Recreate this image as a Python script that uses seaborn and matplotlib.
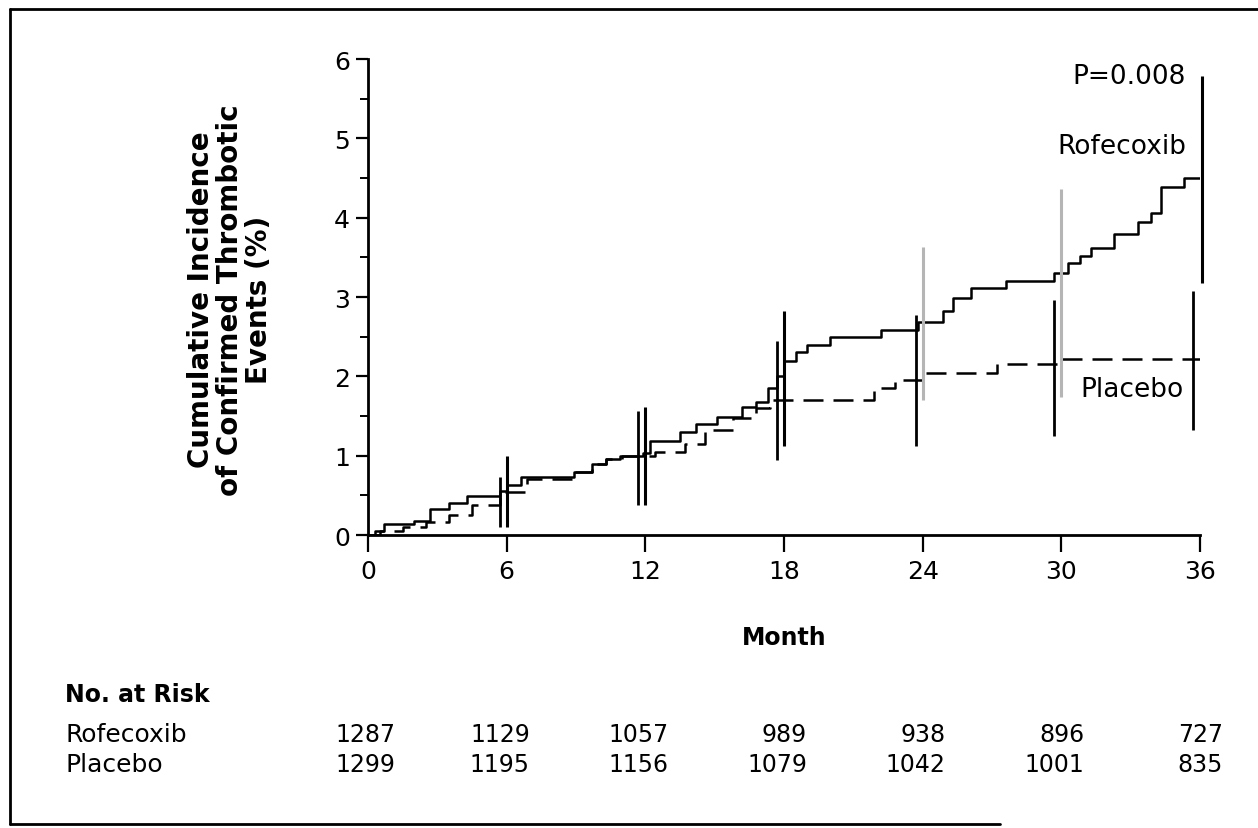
import pandas as pd
import matplotlib
matplotlib.use("Agg")
import matplotlib.pyplot as plt
import matplotlib.transforms as mtransforms
from matplotlib.lines import Line2D
from matplotlib.ticker import MultipleLocator
import seaborn as sns

# Kaplan-Meier style step curves (month, cumulative incidence %)
rofecoxib_month = [0, 0.3, 0.7, 2.0, 2.7, 3.5, 4.3, 5.7, 6.0, 6.6,
                   8.9, 9.7, 10.3, 10.9, 11.9, 12.2, 13.5, 14.2, 15.1, 16.2,
                   16.8, 17.3, 17.7, 18.0, 18.5, 19.0, 20.0, 22.2, 23.8, 24.9,
                   25.3, 26.1, 27.6, 29.7, 30.3, 30.8, 31.3, 32.3, 33.3, 33.9,
                   34.3, 35.3, 36.0]
rofecoxib_pct = [0, 0.05, 0.14, 0.18, 0.33, 0.40, 0.49, 0.55, 0.63, 0.73,
                 0.80, 0.90, 0.96, 0.99, 1.03, 1.19, 1.30, 1.40, 1.49, 1.62,
                 1.68, 1.85, 2.00, 2.19, 2.31, 2.39, 2.49, 2.58, 2.68, 2.82,
                 2.99, 3.11, 3.20, 3.30, 3.43, 3.52, 3.62, 3.80, 3.94, 4.06,
                 4.39, 4.50, 4.50]

placebo_month = [0, 0.5, 1.5, 2.5, 3.5, 4.5, 5.7, 6.9, 8.9, 9.7,
                 10.3, 11.0, 12.4, 13.7, 14.6, 15.8, 16.8, 17.4, 21.9, 22.8,
                 24.0, 27.2, 29.8, 36.0]
placebo_pct = [0, 0.05, 0.10, 0.17, 0.25, 0.38, 0.54, 0.70, 0.80, 0.90,
               0.96, 1.00, 1.05, 1.15, 1.32, 1.47, 1.60, 1.70, 1.85, 1.95,
               2.04, 2.15, 2.22, 2.22]

# 95% confidence intervals at 6-month marks
ci_month = [6, 12, 18, 24, 30, 36]
rofecoxib_ci_low = [0.10, 0.38, 1.12, 1.70, 1.74, 3.18]
rofecoxib_ci_high = [1.00, 1.62, 2.82, 3.63, 4.36, 5.78]
placebo_ci_low = [0.10, 0.38, 0.94, 1.12, 1.25, 1.32]
placebo_ci_high = [0.73, 1.56, 2.44, 2.77, 2.96, 3.07]

# numbers at risk
risk_month = [0, 6, 12, 18, 24, 30, 36]
rofecoxib_at_risk = [1287, 1129, 1057, 989, 938, 896, 727]
placebo_at_risk = [1299, 1195, 1156, 1079, 1042, 1001, 835]

sns.set_style("ticks")
plt.rcParams['font.family'] = ['DejaVu Sans']
plt.rcParams['text.color'] = 'black'
plt.rcParams['xtick.color'] = 'black'
plt.rcParams['ytick.color'] = 'black'
plt.rcParams['axes.edgecolor'] = 'black'
narrow = ['Liberation Sans Narrow', 'DejaVu Sans']

rof = pd.DataFrame({'Month': rofecoxib_month, 'Incidence': rofecoxib_pct})
pla = pd.DataFrame({'Month': placebo_month, 'Incidence': placebo_pct})

fig = plt.figure(figsize=(12.58, 8.29), dpi=100)
ax = fig.add_axes([0.2925, 0.3534, 0.9539 - 0.2925, 0.9276 - 0.3534])

sns.lineplot(data=rof, x='Month', y='Incidence', ax=ax, color='black',
             linewidth=1.8, drawstyle='steps-post', estimator=None)
sns.lineplot(data=pla, x='Month', y='Incidence', ax=ax, color='black',
             linewidth=1.8, drawstyle='steps-post', estimator=None,
             linestyle=(0, (8, 4)))

# confidence interval bars (placebo slightly to the left)
rof_colors = ['black', 'black', 'black', '#b5b5b5', '#b5b5b5', 'black']
rof_x = [m + (0.1 if m == 36 else 0.0) for m in ci_month]
pla_x = [m - 0.3 for m in ci_month]
ax.vlines(rof_x, rofecoxib_ci_low, rofecoxib_ci_high, colors=rof_colors,
          linewidth=2.2, clip_on=False)
ax.vlines(pla_x, placebo_ci_low, placebo_ci_high, colors='black',
          linewidth=2.0, clip_on=False)

ax.set_xlim(0, 36)
ax.set_ylim(0, 6)
ax.set_xticks(risk_month)
ax.set_yticks(range(7))
ax.yaxis.set_minor_locator(MultipleLocator(0.5))
ax.tick_params(axis='x', length=12, width=1.6, pad=5)
ax.tick_params(axis='y', which='major', length=9, width=1.6, pad=4)
ax.tick_params(axis='y', which='minor', length=6, width=1.4)
for lab in ax.get_xticklabels() + ax.get_yticklabels():
    lab.set_fontfamily(narrow)
    lab.set_fontsize(18)
ax.set_xlabel('')
ax.set_ylabel('')
sns.despine(ax=ax)
for s in ['left', 'bottom']:
    ax.spines[s].set_linewidth(2.0)

ax.text(35.4, 5.78, 'P=0.008', ha='right', va='center', fontsize=19)
ax.text(35.4, 4.9, 'Rofecoxib', ha='right', va='center', fontsize=19)
ax.text(35.3, 1.84, 'Placebo', ha='right', va='center', fontsize=19)

fig.text(0.183, 0.638, 'Cumulative Incidence\nof Confirmed Thrombotic\nEvents (%)',
         rotation=90, ha='center', va='center', multialignment='center',
         fontsize=20, fontweight='bold', linespacing=1.05)
fig.text(0.623, 0.2304, 'Month', ha='center', va='center',
         fontsize=17, fontweight='bold')

# risk table
fig.text(0.0517, 0.1616, 'No. at Risk', ha='left', va='center',
         fontsize=17, fontweight='bold')
fig.text(0.0517, 0.1134, 'Rofecoxib', ha='left', va='center', fontsize=18)
fig.text(0.0517, 0.0772, 'Placebo', ha='left', va='center', fontsize=18)
trans = mtransforms.blended_transform_factory(ax.transData, fig.transFigure)
for m, r, p in zip(risk_month, rofecoxib_at_risk, placebo_at_risk):
    ax.text(m + 1.2 if m == 0 else m + 1.0, 0.1134, str(r), transform=trans,
            ha='right', va='center', fontsize=17, family=narrow, clip_on=False)
    ax.text(m + 1.2 if m == 0 else m + 1.0, 0.0772, str(p), transform=trans,
            ha='right', va='center', fontsize=17, family=narrow, clip_on=False)

# scanned frame (left, top and part of the bottom edge)
for xs, ys in [([0.008, 0.008], [0.005, 0.988]),
               ([0.008, 1.0], [0.988, 0.988]),
               ([0.008, 0.795], [0.005, 0.005])]:
    fig.add_artist(Line2D(xs, ys, transform=fig.transFigure, color='black', linewidth=2))

fig.savefig('out.png', dpi=100)
